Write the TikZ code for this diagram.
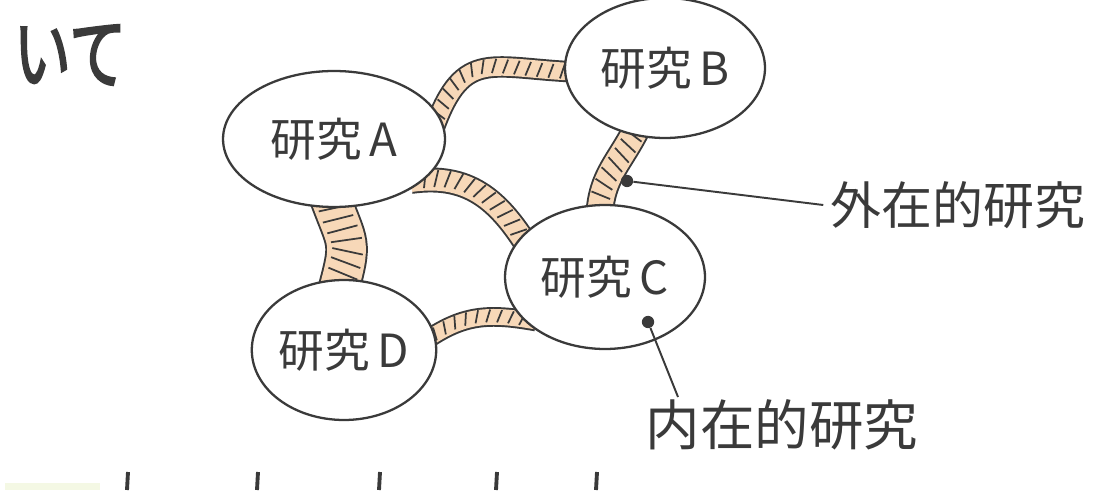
\documentclass[tikz,border=0pt]{standalone}
\usepackage{fontspec}
\newfontfamily\jpfont{Noto Sans CJK JP}
\newfontfamily\jpbold[FakeBold=3]{Noto Sans CJK JP}
\usetikzlibrary{shapes.geometric,decorations.markings,backgrounds}
\definecolor{ink}{HTML}{3A3A3A}
\definecolor{peach}{HTML}{F7D8B8}
\definecolor{haze}{HTML}{F4F8E4}

\begin{document}
\begin{tikzpicture}[x=0.02cm, y=0.02cm,
  study/.style={ellipse, draw=ink, fill=white, line width=1.3pt, inner sep=0pt,
    text=ink, font=\jpfont\fontsize{26}{28}\selectfont},
  bridge/.style={draw=ink, line width=1.1pt, double=peach, double distance=#1,
    shorten <=-8pt, shorten >=-8pt,
    postaction={decorate, decoration={markings, mark=between positions 0 and 1 step 6.5pt with
      {\draw[ink, line width=1pt, shorten <=0pt, shorten >=0pt] (-1.2pt,-0.4*#1) -- (1.2pt,0.4*#1);}}}},
  note/.style={text=ink, inner sep=4pt, font=\jpfont\fontsize{29}{32}\selectfont},
  pin/.style={circle, fill=ink, inner sep=0pt, minimum size=7pt}]
  \useasboundingbox (0,0) rectangle (1101,490);
  \node[study, minimum width=4.44cm, minimum height=2.72cm] (A) at (334,351) {研究\,A};
  \node[study, minimum width=4cm, minimum height=2.8cm] (B) at (665,422) {研究\,B};
  \node[study, minimum width=4cm, minimum height=2.88cm] (C) at (605,213) {研究\,C};
  \node[study, minimum width=3.68cm, minimum height=2.8cm] (D) at (344,140) {研究\,D};
  \begin{pgfonlayer}{background}
    \path[bridge=10pt] (A.13) to[out=70, in=178, looseness=1.4] (B.182);
    \path[bridge=12pt] (A.336) to[out=8, in=122] (C.154);
    \path[bridge=22pt] (A.270) to[out=290, in=75, looseness=1.5] (D.92);
    \path[bridge=14pt] (B.245) to[out=245, in=88] (C.94);
    \path[bridge=9pt] (D.10) to[out=35, in=170] (C.207);
  \end{pgfonlayer}
  \node[note] (exlabel) at (958,285) {外在的研究};
  \node[note, font=\jpfont\fontsize{31}{34}\selectfont] (inlabel) at (782,65) {内在的研究};
  \node[pin] (exdot) at (627,309) {};
  \node[pin] (indot) at (648,168) {};
  \coordinate (intip) at (678,93);
  \draw[ink, line width=1.1pt] (exdot) -- (exlabel.west);
  \draw[ink, line width=1.1pt] (indot) -- (intip);
  \node[text=ink, font=\jpbold\fontsize{45}{48}\selectfont, xscale=0.72] (heading) at (70,435) {いて};
  \fill[haze] (5,0) rectangle (100,7);
  \foreach \x in {127,257,379,496,596}
    \draw[ink, line width=2.2pt] (\x,0) -- (\x+1,18);
\end{tikzpicture}
\end{document}
